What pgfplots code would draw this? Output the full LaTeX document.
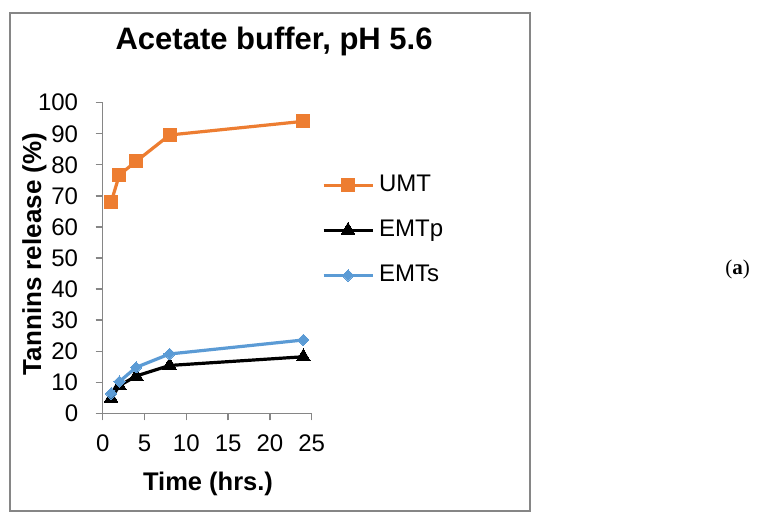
\documentclass[border=0pt]{standalone}
\usepackage{pgfplots}
\pgfplotsset{compat=1.18}
\usepackage{fontspec}
\setmainfont{Liberation Sans}
\newfontfamily\serifa{Liberation Serif}
\definecolor{umt}{HTML}{ED7D31}
\definecolor{emts}{HTML}{5B9BD5}
\definecolor{axgray}{HTML}{868686}
\begin{document}
\begin{tikzpicture}[x=1pt,y=1pt]
\useasboundingbox (0,0) rectangle (758,524);
\fill[white] (0,0) rectangle (758,524);
\draw[axgray, line width=1.3pt] (10,13) rectangle (530,511);
\node[font=\serifa\fontsize{21}{24}\selectfont] at (737.5,255) {(\textbf{a})};
\begin{axis}[
  at={(102.7pt,110.7pt)}, anchor=south west,
  scale only axis, width=209pt, height=310.6pt,
  xmin=0,xmax=25,ymin=0,ymax=100,
  clip=false,
  axis lines=left, axis line style={-, axgray, line width=1.3pt},
  xtick={0,5,...,25}, ytick={0,10,...,100},
  tick align=outside, major tick length=7pt,
  tick style={axgray, line width=1.3pt},
  ticklabel style={font=\fontsize{24}{28}\selectfont},
  /pgf/number format/assume math mode=true,
  xticklabel style={inner sep=0pt, yshift=-14.7pt},
  yticklabel style={inner sep=0pt, xshift=-17.4pt},
  title={Acetate buffer, pH 5.6},
  title style={at={(axis description cs:0.82,1.152)}, anchor=base, font=\bfseries\fontsize{31}{36}\selectfont},
  xlabel={Time (hrs.)},
  xlabel style={at={(axis description cs:0.504,-0.249)}, anchor=base, font=\bfseries\fontsize{25.5}{30}\selectfont},
  ylabel={Tannins release (\%)},
  ylabel style={at={(axis description cs:-0.295,0.513)}, anchor=base, font=\bfseries\fontsize{26}{30}\selectfont},
  legend style={at={(axis description cs:1.048,0.773)}, anchor=north west, draw=none, fill=none,
    inner sep=0pt, row sep=21pt, column sep=5pt,
    nodes={inner sep=0pt, text height=18pt, text depth=6pt, anchor=west},
    font=\fontsize{24}{28}\selectfont},
  legend cell align=left,
  legend image code/.code={\draw[mark repeat=2,mark phase=2,#1] plot coordinates {(0pt,0pt) (24.5pt,0pt) (49pt,0pt)};},
]
\addplot[umt, line width=3.2pt, mark=square*, mark size=6.5pt, mark options={solid, fill=umt, draw=umt, line width=0pt}]
  coordinates {(1,67.9) (2,76.8) (4,81.1) (8,89.6) (24,94.0)};
\addlegendentry{UMT}
\addplot[black, line width=3.2pt, mark=triangle*, mark size=8pt, mark options={solid, fill=black, line width=0pt}]
  coordinates {(1,4.8) (2,8.9) (4,12.0) (8,15.4) (24,18.2)};
\addlegendentry{EMTp}
\addplot[emts, line width=3.2pt, mark=square*, mark size=4pt, mark options={solid, fill=emts, draw=emts, line width=0pt, rotate=45}]
  coordinates {(1,6.4) (2,10.2) (4,14.8) (8,19.1) (24,23.6)};
\addlegendentry{EMTs}
\end{axis}
\end{tikzpicture}
\end{document}
